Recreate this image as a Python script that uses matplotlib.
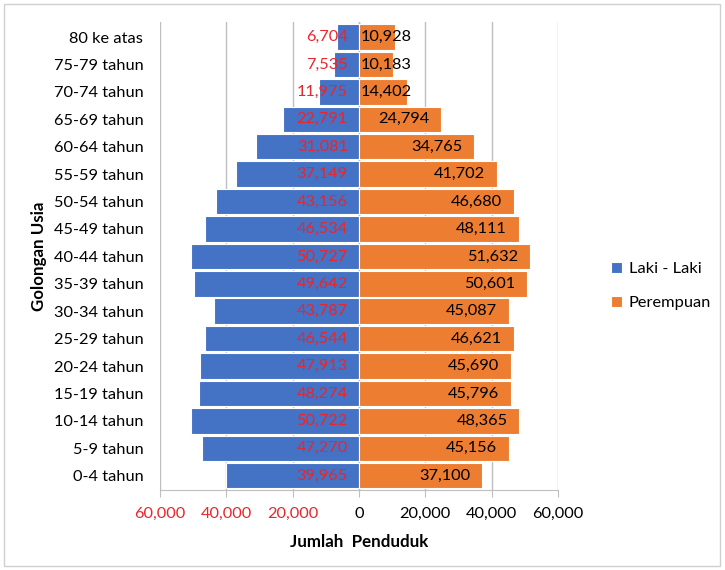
import matplotlib
matplotlib.use("Agg")
import matplotlib.pyplot as plt
from matplotlib.patches import Rectangle
import numpy as np

plt.rcParams['font.family'] = ['Lato', 'DejaVu Sans']

age_groups = ["0-4 tahun", "5-9 tahun", "10-14 tahun", "15-19 tahun", "20-24 tahun",
              "25-29 tahun", "30-34 tahun", "35-39 tahun", "40-44 tahun", "45-49 tahun",
              "50-54 tahun", "55-59 tahun", "60-64 tahun", "65-69 tahun", "70-74 tahun",
              "75-79 tahun", "80 ke atas"]
male = [39965, 47270, 50722, 48274, 47913, 46544, 43787, 49642, 50727, 46534,
        43156, 37149, 31081, 22791, 11975, 7535, 6704]
female = [37100, 45156, 48365, 45796, 45690, 46621, 45087, 50601, 51632, 48111,
          46680, 41702, 34765, 24794, 14402, 10183, 10928]
x_ticks = [-60000, -40000, -20000, 0, 20000, 40000, 60000]
x_tick_labels = ["60,000", "40,000", "20,000", "0", "20,000", "40,000", "60,000"]

BLUE = "#4472C4"
ORANGE = "#ED7D31"
RED = "#E8262E"
GRID = "#BFBFBF"

fig = plt.figure(figsize=(7.25, 5.7), dpi=100)
ax = fig.add_axes([160 / 725, 1 - 490 / 570, 398 / 725, 468 / 570])

y = np.arange(len(age_groups))
ax.barh(y, [-v for v in male], height=0.93, color=BLUE, edgecolor="white",
        linewidth=0.8, label="Laki - Laki", zorder=2)
ax.barh(y, female, height=0.93, color=ORANGE, edgecolor="white",
        linewidth=0.8, label="Perempuan", zorder=2)

fs = 11.8
for yi, v in zip(y, male):
    ax.text(-3400, yi, f"{v:,}", color=RED, fontsize=fs, ha="right",
            va="center", zorder=3)
for yi, v in zip(y, female):
    if v < 20000:
        ax.text(500, yi, f"{v:,}", color="black", fontsize=fs, ha="left",
                va="center", zorder=3)
    else:
        ax.text(v - 3600, yi, f"{v:,}", color="black", fontsize=fs, ha="right",
                va="center", zorder=3)

ax.set_xlim(-60000, 60000)
ax.set_ylim(-0.52, 16.55)
ax.set_xticks(x_ticks)
ax.set_xticklabels(x_tick_labels, fontsize=fs)
for lbl, t in zip(ax.get_xticklabels(), x_ticks):
    lbl.set_color(RED if t < 0 else "black")
ax.set_yticks(y)
ax.set_yticklabels(age_groups, fontsize=fs)
ax.tick_params(axis="y", length=0, pad=12)
ax.tick_params(axis="x", length=5, color=GRID, pad=7.5)

ax.grid(axis="x", color=GRID, linewidth=1, zorder=0)
ax.axvline(0, color="#A6A6A6", linewidth=1, zorder=1)
for side in ["top", "right", "left"]:
    ax.spines[side].set_visible(False)
ax.spines["bottom"].set_color(GRID)

ax.set_xlabel("Jumlah  Penduduk", fontsize=12.2, fontweight="bold", labelpad=9)
ax.set_ylabel("Golongan Usia", fontsize=12.2, fontweight="bold", labelpad=5)

fig.legend(loc="center left", bbox_to_anchor=(596 / 725, 1 - 286 / 570),
           frameon=False, fontsize=fs, handlelength=0.7, handleheight=0.7,
           labelspacing=1.2, handletextpad=0.4)

fig.patches.append(Rectangle((4 / 725, 4 / 570), 716 / 725, 562 / 570,
                             transform=fig.transFigure, fill=False,
                             edgecolor="#D0D0D0", linewidth=1))

fig.savefig("out.png", dpi=100)
